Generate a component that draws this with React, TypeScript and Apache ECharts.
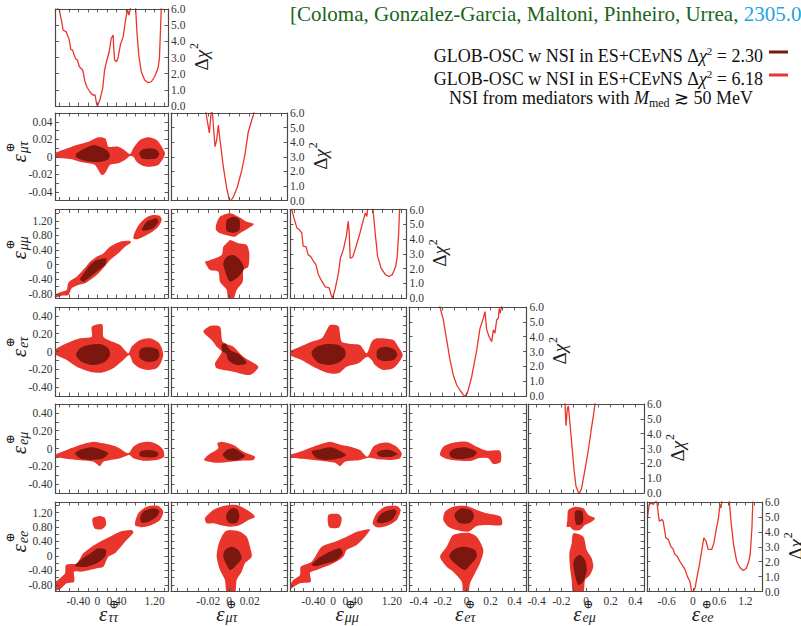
import React, { useEffect, useRef } from "react";
import * as echarts from "echarts";

// ---------- parameters ----------
const subscripts = ["ττ", "μτ", "μμ", "eτ", "eμ", "ee"];

// axis ranges (x when the parameter is on a column, y when on a row)
const xMin = [-0.88, -0.056, -0.88, -0.48, -0.47, -1.05];
const xMax = [1.48, 0.056, 1.5, 0.5, 0.47, 1.58];
const yMin = [-0.88, -0.05, -0.91, -0.5, -0.5, -0.98];
const yMax = [1.48, 0.05, 1.51, 0.5, 0.5, 1.49];
const tickStep = [0.2, 0.01, 0.2, 0.1, 0.1, 0.2];

// tick labels
const xLabelVals = [
  [-0.4, 0, 0.4, 1.2],
  [-0.02, 0, 0.02],
  [-0.4, 0, 0.4, 1.2],
  [-0.4, -0.2, 0, 0.2, 0.4],
  [-0.4, -0.2, 0, 0.2, 0.4],
  [-0.6, 0, 0.6, 1.2],
];
const xLabelDec = [2, 2, 2, 1, 1, 1];
const yLabelVals = [
  [],
  [-0.04, -0.02, 0, 0.02, 0.04],
  [-0.8, -0.4, 0, 0.4, 0.8, 1.2],
  [-0.4, -0.2, 0, 0.2, 0.4],
  [-0.4, -0.2, 0, 0.2, 0.4],
  [-0.8, -0.4, 0, 0.4, 0.8, 1.2],
];
const chiLabels = [0, 1, 2, 3, 4, 5, 6];

// ---------- 1D Δχ² profiles ----------
const chi_tt = [[-0.87,6.3],[-0.84,6.04],[-0.8,5.94],[-0.75,5.2],[-0.72,4.7],[-0.66,4.6],[-0.63,4.4],[-0.59,4.08],[-0.56,3.5],[-0.52,3.46],[-0.49,3.15],[-0.45,2.89],[-0.42,2.85],[-0.38,2.43],[-0.31,2.23],[-0.26,1.5],[-0.22,1.16],[-0.16,0.88],[-0.1,0.68],[-0.05,0.68],[-0.02,0.17],[0.0,0.0],[0.05,0.37],[0.11,1.09],[0.15,2.23],[0.19,2.74],[0.24,3.26],[0.29,4.19],[0.33,4.39],[0.34,3.67],[0.36,2.85],[0.4,2.74],[0.43,2.95],[0.48,3.77],[0.54,4.29],[0.59,5.32],[0.63,5.94],[0.66,5.63],[0.7,6.14],[0.75,8],[0.8,6.1],[0.83,4.5],[0.87,3.05],[0.92,2.12],[0.99,1.61],[1.06,1.44],[1.13,1.5],[1.2,1.81],[1.27,2.33],[1.3,2.95],[1.32,4.5],[1.34,6.14]];
const chi_mt = [[-0.0235,6.5],[-0.0222,6.0],[-0.019,4.63],[-0.0174,5.9],[-0.0168,6.3],[-0.016,6.0],[-0.0135,3.69],[-0.0119,4.15],[-0.0103,5.18],[-0.0087,4.15],[-0.0055,2.32],[-0.0022,0.84],[0.0003,0.05],[0.0019,0.0],[0.0041,0.23],[0.008,0.91],[0.0123,2.06],[0.0155,3.2],[0.0186,4.7],[0.0219,5.5],[0.0241,6.0],[0.025,6.5]];
const chi_mm = [[-0.86,6.3],[-0.845,6.0],[-0.8,5.43],[-0.74,4.75],[-0.69,4.64],[-0.64,4.41],[-0.61,3.51],[-0.55,3.46],[-0.51,2.94],[-0.46,2.82],[-0.4,2.49],[-0.35,2.26],[-0.3,1.59],[-0.23,1.14],[-0.16,0.75],[-0.08,0.68],[-0.03,0.11],[-0.01,0.0],[0.04,0.56],[0.11,1.69],[0.15,2.71],[0.21,3.28],[0.27,4.18],[0.31,5.2],[0.33,4.41],[0.35,2.71],[0.4,2.77],[0.45,3.28],[0.55,4.41],[0.62,5.31],[0.66,5.76],[0.69,5.53],[0.71,6.2],[0.76,8],[0.81,6.2],[0.86,4.41],[0.91,2.82],[0.98,2.03],[1.07,1.58],[1.14,1.46],[1.21,1.58],[1.28,2.15],[1.31,2.82],[1.34,4.41],[1.36,6.1]];
const chi_et = [[-0.23,6.5],[-0.222,6.0],[-0.194,5.15],[-0.166,3.8],[-0.138,2.43],[-0.111,1.42],[-0.082,0.74],[-0.055,0.4],[-0.027,0.07],[-0.013,0.0],[0.006,0.18],[0.043,1.3],[0.085,3.1],[0.112,4.56],[0.14,5.24],[0.154,5.69],[0.168,4.46],[0.19,3.96],[0.21,3.67],[0.223,4.46],[0.237,4.23],[0.251,5.12],[0.265,5.24],[0.273,5.91],[0.279,5.57],[0.293,6.02],[0.3,6.5]];
const chi_em = [[-0.175,6.5],[-0.17,6.0],[-0.162,4.54],[-0.151,5.71],[-0.143,5.86],[-0.13,4.7],[-0.116,3.36],[-0.097,1.57],[-0.081,0.45],[-0.062,0.04],[-0.049,0.04],[-0.035,0.34],[-0.008,1.57],[0.019,2.9],[0.046,4.47],[0.059,5.15],[0.073,6.0],[0.08,6.5]];
const chi_ee = [[-1.04,4.94],[-1.02,5.38],[-1.0,5.83],[-0.94,5.94],[-0.91,5.83],[-0.87,6.0],[-0.83,6.17],[-0.79,5.16],[-0.77,4.71],[-0.71,4.83],[-0.68,4.71],[-0.62,3.6],[-0.56,3.48],[-0.51,3.04],[-0.45,2.82],[-0.41,2.48],[-0.36,2.37],[-0.3,2.03],[-0.23,1.7],[-0.18,1.47],[-0.13,1.03],[-0.07,0.69],[-0.03,0.02],[0.01,0.0],[0.05,0.25],[0.09,0.92],[0.15,1.81],[0.2,2.7],[0.25,3.6],[0.3,3.37],[0.35,2.82],[0.43,2.82],[0.48,3.26],[0.54,4.27],[0.58,4.83],[0.62,5.83],[0.64,5.61],[0.67,6.17],[0.75,8],[0.83,6.17],[0.87,4.71],[0.93,3.15],[1.0,2.03],[1.08,1.59],[1.15,1.41],[1.22,1.54],[1.27,1.94],[1.31,2.48],[1.35,4.27],[1.37,6.05]];

// ---------- 2D allowed regions: _L = Δχ²=6.18, _D = Δχ²=2.30 ----------
const tt_mt_L = [[[-0.9,0.0039],[-0.54,0.0115],[-0.435,0.0134],[-0.19,0.0172],[0.018,0.0222],[0.158,0.0211],[0.194,0.0172],[0.228,0.0115],[0.437,0.0115],[0.542,0.0085],[0.683,0.0031],[0.752,0.0097],[0.893,0.0191],[1.067,0.0222],[1.243,0.0191],[1.348,0.0115],[1.417,0.0039],[1.381,-0.0018],[1.277,-0.0094],[1.102,-0.0114],[0.962,-0.0106],[0.823,-0.0057],[0.752,0.0],[0.683,0.0009],[0.578,-0.0037],[0.437,-0.0075],[0.263,-0.0094],[0.158,-0.0189],[0.089,-0.0209],[-0.051,-0.0094],[-0.192,-0.0075],[-0.366,-0.0057],[-0.54,-0.0029],[-0.716,-0.0018],[-0.9,-0.0006]]];
const tt_mt_D = [[[-0.45,0.0031],[-0.3,0.0085],[-0.087,0.0134],[0.054,0.0115],[0.194,0.0077],[0.263,0.002],[0.228,-0.0029],[0.089,-0.0057],[-0.156,-0.0057],[-0.366,-0.0029],[-0.45,0.0]],[[0.878,0.0039],[0.928,0.0077],[1.102,0.0097],[1.243,0.0077],[1.297,0.0031],[1.243,-0.0018],[1.067,-0.0029],[0.928,-0.0018]]];

const tt_mm_L = [[[-0.9,-0.82],[-0.75,-0.74],[-0.645,-0.69],[-0.61,-0.49],[-0.435,-0.33],[-0.366,-0.235],[-0.24,-0.054],[-0.156,0.083],[-0.016,0.22],[0.123,0.31],[0.263,0.493],[0.473,0.63],[0.683,0.657],[0.697,0.602],[0.578,0.493],[0.437,0.312],[0.263,0.129],[0.179,-0.008],[0.054,-0.19],[-0.016,-0.28],[-0.156,-0.418],[-0.261,-0.51],[-0.4,-0.555],[-0.54,-0.645],[-0.61,-0.828],[-0.75,-0.847],[-0.9,-0.9]],[[0.752,0.722],[0.788,0.903],[0.893,1.133],[1.033,1.297],[1.172,1.36],[1.312,1.332],[1.348,1.223],[1.277,1.04],[1.102,0.859],[0.962,0.766],[0.823,0.695]]];
const tt_mm_D = [[[-0.366,-0.4],[-0.261,-0.19],[-0.12,0.04],[-0.016,0.129],[0.179,0.175],[0.158,-0.008],[-0.016,-0.19],[-0.19,-0.37],[-0.293,-0.464]],[[0.928,0.95],[1.033,1.176],[1.243,1.27],[1.277,1.176],[1.172,0.996],[0.998,0.93]]];

const tt_et_L = [[[-0.9,0.017],[-0.645,0.092],[-0.366,0.148],[-0.12,0.166],[-0.12,0.279],[0.054,0.309],[0.11,0.298],[0.123,0.166],[0.228,0.129],[0.473,0.073],[0.647,-0.02],[0.718,0.054],[0.893,0.129],[1.102,0.148],[1.297,0.092],[1.381,-0.028],[1.327,-0.133],[1.243,-0.189],[1.067,-0.208],[0.893,-0.189],[0.752,-0.133],[0.668,-0.039],[0.542,-0.096],[0.333,-0.189],[0.089,-0.238],[-0.156,-0.227],[-0.435,-0.171],[-0.645,-0.096],[-0.9,-0.028]]];
const tt_et_D = [[[-0.45,-0.039],[-0.366,0.036],[-0.19,0.073],[0.054,0.084],[0.228,0.036],[0.263,-0.039],[0.158,-0.115],[-0.087,-0.152],[-0.33,-0.115]],[[0.878,0.0],[0.928,0.036],[1.102,0.047],[1.277,0.017],[1.297,-0.058],[1.207,-0.107],[1.033,-0.115],[0.893,-0.076]]];

const tt_em_L = [[[-0.9,-0.073],[-0.645,-0.017],[-0.366,0.039],[-0.087,0.076],[0.123,0.058],[0.404,0.02],[0.647,-0.054],[0.752,0.02],[0.893,0.065],[1.102,0.076],[1.277,0.039],[1.381,-0.017],[1.396,-0.092],[1.243,-0.129],[0.962,-0.137],[0.752,-0.11],[0.668,-0.073],[0.473,-0.11],[0.123,-0.148],[0.054,-0.197],[-0.087,-0.148],[-0.435,-0.129],[-0.716,-0.11],[-0.9,-0.092]]];
const tt_em_D = [[[-0.47,-0.054],[-0.366,-0.017],[-0.12,0.013],[0.054,-0.009],[0.228,-0.054],[0.123,-0.11],[-0.156,-0.129],[-0.366,-0.11]],[[0.878,-0.054],[0.928,-0.025],[1.102,-0.017],[1.277,-0.047],[1.243,-0.092],[1.033,-0.099],[0.893,-0.084]]];

const tt_ee_L = [[[-0.9,-0.75],[-0.786,-0.616],[-0.68,-0.478],[-0.66,-0.249],[-0.435,-0.202],[-0.297,0.074],[-0.12,0.256],[0.054,0.394],[0.263,0.532],[0.473,0.67],[0.718,0.717],[0.752,0.643],[0.578,0.394],[0.368,0.074],[0.228,-0.02],[0.123,-0.296],[-0.016,-0.34],[-0.156,-0.387],[-0.366,-0.434],[-0.49,-0.434],[-0.49,-0.71],[-0.645,-0.754],[-0.786,-0.92],[-0.9,-0.95]],[[-0.1,1.04],[0.054,1.104],[0.158,1.048],[0.179,0.855],[0.089,0.737],[-0.051,0.753],[-0.1,0.891]],[[0.788,0.855],[0.857,1.178],[1.033,1.36],[1.277,1.38],[1.381,1.222],[1.312,0.993],[1.137,0.855],[0.928,0.792]]];
const tt_ee_D = [[[-0.47,-0.277],[-0.31,-0.064],[-0.156,0.063],[0.018,0.212],[0.179,0.165],[0.158,-0.02],[-0.016,-0.202],[-0.226,-0.296],[-0.4,-0.296]],[[0.893,1.04],[0.962,1.222],[1.172,1.316],[1.297,1.25],[1.243,1.084],[1.067,0.946],[0.928,0.919]]];

const mt_mm_L = [[[-0.0125,1.086],[-0.0087,1.313],[0.001,1.406],[0.009,1.313],[0.0171,1.176],[0.0241,1.114],[0.0186,0.996],[0.0106,0.859],[0.0058,0.766],[0.001,0.785],[-0.0087,0.859],[-0.0125,0.95]],[[0.001,0.676],[0.009,0.586],[0.0171,0.539],[0.0196,0.312],[0.0186,-0.054],[0.0138,-0.144],[0.0132,-0.464],[0.0074,-0.691],[0.0042,-0.95],[-0.0007,-0.95],[-0.0022,-0.691],[-0.0087,-0.464],[-0.0103,-0.19],[-0.0183,-0.144],[-0.0232,0.083],[-0.02,0.11],[-0.0071,0.266],[-0.0055,0.493],[-0.0007,0.63]]];
const mt_mm_D = [[[-0.0022,1.223],[0.0042,1.313],[0.01,1.242],[0.01,0.95],[0.0042,0.876],[-0.0022,0.93]],[[-0.0055,0.039],[-0.0022,0.219],[0.0042,0.266],[0.0106,0.129],[0.0145,-0.098],[0.009,-0.328],[0.001,-0.464],[-0.0025,-0.281]]];

const mt_et_L = [[[-0.0248,0.222],[-0.0183,0.287],[-0.0087,0.279],[-0.0061,0.11],[0.0042,0.054],[0.0138,-0.058],[0.0283,-0.171],[0.0203,-0.264],[0.0042,-0.227],[-0.0119,-0.189],[-0.0135,-0.133],[-0.0071,-0.002],[-0.0119,0.054],[-0.0167,0.129]]];
const mt_et_D = [[[-0.0071,0.073],[-0.0039,0.092],[0.001,0.017],[0.0106,-0.039],[0.0171,-0.133],[0.0074,-0.152],[-0.0007,-0.096],[-0.0029,-0.02],[-0.0061,-0.002]]];

const mt_em_L = [[[-0.0241,-0.129],[-0.02,-0.073],[-0.0103,0.002],[-0.0113,0.058],[-0.0071,0.076],[0.0042,0.039],[0.0138,-0.036],[0.0251,-0.092],[0.0235,-0.129],[0.0106,-0.137],[0.001,-0.148],[-0.0119,-0.16]]];
const mt_em_D = [[[-0.0061,-0.073],[-0.0022,-0.017],[0.0042,0.002],[0.0106,-0.036],[0.0154,-0.084],[0.009,-0.129],[-0.0007,-0.129]]];

const mt_ee_L = [[[-0.0232,1.04],[-0.0152,1.269],[-0.0055,1.38],[0.0074,1.407],[0.0186,1.25],[0.0251,1.084],[0.0186,0.993],[0.0106,0.855],[0.001,0.808],[-0.0087,0.855],[-0.0152,0.902],[-0.0215,0.902]],[[0.001,0.717],[0.0106,0.67],[0.0171,0.532],[0.0203,0.256],[0.0219,-0.02],[0.0154,-0.202],[0.0122,-0.434],[0.0074,-0.663],[0.0058,-1.0],[-0.0022,-1.0],[-0.0039,-0.663],[-0.0087,-0.387],[-0.0119,-0.02],[-0.0103,0.303],[-0.0071,0.532],[-0.0039,0.67]]];
const mt_ee_D = [[[-0.0022,1.178],[0.0026,1.316],[0.008,1.29],[0.01,1.084],[0.0074,0.919],[0.001,0.902],[-0.0022,0.993]],[[-0.0055,-0.02],[-0.0039,0.165],[0.0026,0.256],[0.009,0.165],[0.0122,-0.064],[0.0058,-0.296],[0.001,-0.387],[-0.0022,-0.249]]];

const mm_et_L = [[[-0.9,-0.002],[-0.676,0.054],[-0.437,0.11],[-0.232,0.148],[-0.13,0.242],[-0.063,0.298],[0.107,0.287],[0.141,0.204],[0.176,0.11],[0.38,0.084],[0.55,0.073],[0.687,-0.02],[0.789,0.11],[0.891,0.148],[1.23,0.129],[1.332,0.054],[1.422,-0.039],[1.332,-0.133],[1.23,-0.189],[1.026,-0.208],[0.856,-0.152],[0.789,-0.096],[0.699,-0.058],[0.515,-0.133],[0.278,-0.171],[0.107,-0.245],[-0.13,-0.238],[-0.404,-0.171],[-0.676,-0.088],[-0.9,-0.039]]];
const mm_et_D = [[[-0.437,-0.002],[-0.335,0.054],[-0.13,0.084],[0.107,0.073],[0.244,0.017],[0.244,-0.058],[0.107,-0.126],[-0.097,-0.152],[-0.302,-0.126],[-0.416,-0.058]],[[0.891,-0.002],[0.944,0.036],[1.095,0.054],[1.265,0.017],[1.312,-0.039],[1.23,-0.096],[1.026,-0.107],[0.903,-0.076]]];

const mm_em_L = [[[-0.9,-0.073],[-0.676,-0.036],[-0.404,0.02],[-0.2,0.058],[-0.063,0.076],[0.176,0.039],[0.346,0.02],[0.55,-0.017],[0.699,-0.092],[0.822,0.02],[0.959,0.058],[1.128,0.065],[1.3,0.02],[1.402,-0.054],[1.367,-0.11],[1.163,-0.129],[0.924,-0.122],[0.822,-0.11],[0.72,-0.103],[0.55,-0.129],[0.244,-0.148],[0.141,-0.197],[0.039,-0.16],[-0.404,-0.129],[-0.743,-0.11],[-0.9,-0.092]]];
const mm_em_D = [[[-0.437,-0.036],[-0.267,-0.009],[-0.063,0.013],[0.107,-0.017],[0.264,-0.073],[0.141,-0.11],[-0.13,-0.129],[-0.335,-0.11]],[[0.891,-0.054],[0.959,-0.025],[1.163,-0.017],[1.312,-0.062],[1.197,-0.092],[0.959,-0.092]]];

const mm_ee_L = [[[-0.9,-0.85],[-0.813,-0.663],[-0.676,-0.525],[-0.661,-0.296],[-0.437,-0.158],[-0.232,0.256],[0.039,0.394],[0.278,0.532],[0.483,0.67],[0.754,0.737],[0.652,0.532],[0.483,0.303],[0.278,0.165],[0.209,-0.02],[0.005,-0.202],[-0.335,-0.387],[-0.471,-0.461],[-0.457,-0.71],[-0.676,-0.754],[-0.845,-0.89],[-0.9,-0.92]],[[-0.097,1.131],[0.107,1.159],[0.176,1.04],[0.127,0.792],[-0.077,0.792]],[[0.809,0.902],[0.891,1.178],[1.061,1.36],[1.3,1.38],[1.381,1.27],[1.3,0.993],[1.095,0.826],[0.891,0.792]]];
const mm_ee_D = [[[-0.437,-0.249],[-0.302,-0.064],[-0.063,0.118],[0.141,0.212],[0.196,0.074],[0.073,-0.11],[-0.13,-0.202],[-0.335,-0.277]],[[0.891,0.946],[0.993,1.178],[1.23,1.29],[1.3,1.222],[1.197,0.993],[0.993,0.902]]];

const et_em_L = [[[-0.221,-0.073],[-0.194,0.02],[-0.111,0.065],[0.001,0.076],[0.085,0.02],[0.168,-0.025],[0.279,-0.025],[0.285,-0.148],[0.223,-0.174],[0.181,-0.11],[0.098,-0.11],[0.043,-0.137],[-0.055,-0.137],[-0.152,-0.122]]];
const et_em_D = [[[-0.144,-0.054],[-0.111,-0.009],[-0.013,0.013],[0.085,-0.039],[0.056,-0.092],[-0.04,-0.118],[-0.124,-0.103]]];

const et_ee_L = [[[-0.194,0.993],[-0.18,1.222],[-0.111,1.36],[0.001,1.38],[0.085,1.27],[0.168,1.178],[0.285,1.084],[0.293,0.855],[0.168,0.855],[0.085,0.826],[0.015,0.67],[-0.082,0.717],[-0.152,0.808]],[[-0.111,0.579],[0.015,0.643],[0.085,0.532],[0.14,0.165],[0.112,-0.202],[0.07,-0.478],[0.029,-0.754],[0.015,-1.0],[-0.027,-1.0],[-0.04,-0.71],[-0.111,-0.434],[-0.166,-0.296],[-0.221,-0.02],[-0.166,0.256]]];
const et_ee_D = [[[-0.096,1.178],[-0.04,1.316],[0.043,1.25],[0.062,1.084],[0.029,0.919],[-0.055,0.902],[-0.096,1.04]],[[-0.144,-0.02],[-0.111,0.165],[-0.027,0.256],[0.07,0.165],[0.085,-0.02],[0.043,-0.202],[-0.013,-0.387],[-0.082,-0.249]]];

const em_ee_L = [[[-0.143,1.27],[-0.089,1.36],[-0.022,1.316],[0.019,1.131],[0.073,1.04],[0.046,0.946],[-0.008,0.855],[-0.049,0.717],[-0.103,0.717],[-0.13,0.808],[-0.156,0.808],[-0.151,0.993]],[[-0.103,0.62],[-0.022,0.532],[0.006,0.165],[0.046,-0.064],[0.059,-0.296],[0.032,-0.525],[-0.008,-0.663],[-0.022,-1.0],[-0.103,-1.0],[-0.116,-0.663],[-0.13,-0.296],[-0.135,0.074],[-0.116,0.35]]];
const em_ee_D = [[[-0.089,1.222],[-0.062,1.27],[-0.027,1.222],[-0.027,0.902],[-0.075,0.855],[-0.089,0.993]],[[-0.103,-0.202],[-0.089,-0.064],[-0.049,0.033],[-0.008,-0.11],[0.006,-0.387],[-0.022,-0.71],[-0.062,-0.8],[-0.089,-0.525]]];

const chiCurves = [chi_tt, chi_mt, chi_mm, chi_et, chi_em, chi_ee];
// key: "col,row"
const regions: Record<string, any[][]> = {
  "0,1": [tt_mt_L, tt_mt_D],
  "0,2": [tt_mm_L, tt_mm_D],
  "1,2": [mt_mm_L, mt_mm_D],
  "0,3": [tt_et_L, tt_et_D],
  "1,3": [mt_et_L, mt_et_D],
  "2,3": [mm_et_L, mm_et_D],
  "0,4": [tt_em_L, tt_em_D],
  "1,4": [mt_em_L, mt_em_D],
  "2,4": [mm_em_L, mm_em_D],
  "3,4": [et_em_L, et_em_D],
  "0,5": [tt_ee_L, tt_ee_D],
  "1,5": [mt_ee_L, mt_ee_D],
  "2,5": [mm_ee_L, mm_ee_D],
  "3,5": [et_ee_L, et_ee_D],
  "4,5": [em_ee_L, em_ee_D],
};

// ---------- layout ----------
const colLeft = [55.5, 171, 290, 409, 528, 647];
const colWidth = [112.5, 116, 116.5, 117.5, 116, 115];
const rowTop = [9, 113, 209.5, 307, 404, 502];
const rowHeight = [97, 87.5, 88.5, 89, 89, 89.5];

const LIGHT = "#e9352b";
const DARK = "#7c1710";
const AXIS = "#4a4a4a";
const FONT = "Liberation Serif";

function tickValues(min: number, max: number, step: number) {
  const out: number[] = [];
  for (let k = Math.ceil(min / step - 1e-9); k * step <= max + 1e-9; k++) out.push(+(k * step).toFixed(6));
  return out;
}
function fmt(v: number, d: number) {
  return Math.abs(v) < 1e-9 ? "0" : v.toFixed(d);
}

function mkAxis(gridIndex: number, position: string, min: number, max: number, ticks: number[], labels: number[] | null, fmtFn?: (v: number) => string) {
  return {
    type: "value",
    gridIndex,
    position,
    min,
    max,
    z: 5,
    axisLine: { show: true, onZero: false, lineStyle: { color: AXIS, width: 1.2 } },
    axisTick: { show: true, inside: true, length: 3.5, customValues: ticks, lineStyle: { color: AXIS, width: 0.9 } },
    axisLabel: labels
      ? { show: true, customValues: labels, formatter: fmtFn, color: "#333", fontFamily: FONT, fontSize: 11.5, margin: 3 }
      : { show: false },
    splitLine: { show: false },
  };
}

function epsLabel(x: number, y: number, sub: string, rotate: boolean) {
  return {
    type: "group",
    x,
    y,
    rotation: rotate ? Math.PI / 2 : 0,
    children: [
      { type: "text", x: 0, y: 0, style: { text: "ε", fontSize: 21, fontStyle: "italic", fontFamily: FONT, fill: "#222", align: "right", verticalAlign: "middle", textAlign: "right", textVerticalAlign: "middle" } },
      { type: "text", x: 1.5, y: -9.5, style: { text: "⊕", fontSize: 12, fontFamily: "DejaVu Serif", fill: "#222", align: "left", verticalAlign: "middle", textAlign: "left", textVerticalAlign: "middle" } },
      { type: "text", x: 1, y: 4, style: { text: sub, fontSize: 14, fontStyle: "italic", fontFamily: FONT, fill: "#222", align: "left", verticalAlign: "middle", textAlign: "left", textVerticalAlign: "middle" } },
    ],
  };
}

function chiLabel(x: number, y: number) {
  return {
    type: "group",
    x,
    y,
    rotation: Math.PI / 2,
    children: [
      { type: "text", x: 11, y: 0, style: { text: "Δ{i|χ}", fontSize: 19, fontFamily: FONT, fill: "#222", align: "right", verticalAlign: "middle", textAlign: "right", textVerticalAlign: "middle", rich: { i: { fontSize: 19, fontFamily: FONT, fontStyle: "italic", fill: "#222" } } } },
      { type: "text", x: 12, y: -7, style: { text: "2", fontSize: 12, fontFamily: FONT, fill: "#222", align: "left", verticalAlign: "middle", textAlign: "left", textVerticalAlign: "middle" } },
    ],
  };
}

function buildOption() {
  const grids: any[] = [];
  const xAxes: any[] = [];
  const yAxes: any[] = [];
  const series: any[] = [];
  const graphics: any[] = [];

  for (let r = 0; r < 6; r++) {
    for (let c = 0; c <= r; c++) {
      const g = grids.length;
      grids.push({ left: colLeft[c], top: rowTop[r], width: colWidth[c], height: rowHeight[r], containLabel: false });
      const diag = r === c;
      const xt = tickValues(xMin[c], xMax[c], tickStep[c]);
      const xi = xAxes.length;
      xAxes.push(mkAxis(g, "bottom", xMin[c], xMax[c], xt, r === 5 ? xLabelVals[c] : null, (v) => fmt(v, xLabelDec[c])));
      xAxes.push(mkAxis(g, "top", xMin[c], xMax[c], xt, null));
      const yi = yAxes.length;
      if (diag) {
        yAxes.push(mkAxis(g, "left", 0, 6, chiLabels, null));
        yAxes.push(mkAxis(g, "right", 0, 6, chiLabels, chiLabels, (v) => v.toFixed(1)));
        series.push({
          type: "line",
          xAxisIndex: xi,
          yAxisIndex: yi,
          data: chiCurves[c],
          showSymbol: false,
          clip: true,
          silent: true,
          lineStyle: { color: LIGHT, width: 1.3 },
          z: 3,
        });
      } else {
        const yt = tickValues(yMin[r], yMax[r], tickStep[r]);
        yAxes.push(mkAxis(g, "left", yMin[r], yMax[r], yt, c === 0 ? yLabelVals[r] : null, (v) => fmt(v, 2)));
        yAxes.push(mkAxis(g, "right", yMin[r], yMax[r], yt, null));
        const [L, D] = regions[c + "," + r];
        const polys = [
          ...L.map((pts: number[][]) => ({ pts, color: LIGHT })),
          ...D.map((pts: number[][]) => ({ pts, color: DARK })),
        ];
        series.push({
          type: "custom",
          xAxisIndex: xi,
          yAxisIndex: yi,
          clip: true,
          silent: true,
          z: 2,
          data: polys.map((p) => p.pts[0]),
          renderItem: (params: any, api: any) => {
            const p = polys[params.dataIndex];
            return {
              type: "polygon",
              shape: { points: p.pts.map((pt: number[]) => api.coord(pt)), smooth: 0.25 },
              style: { fill: p.color, stroke: null },
            };
          },
        });
      }
    }
  }

  // axis titles
  for (let c = 0; c < 6; c++) {
    const cx = colLeft[c] + colWidth[c] / 2;
    graphics.push(epsLabel(cx - 4.5, 613.5, subscripts[c], false));
  }
  for (let r = 1; r < 6; r++) {
    const cy = rowTop[r] + rowHeight[r] / 2;
    graphics.push(epsLabel(19, cy - 2.5, subscripts[r], true));
  }
  for (let r = 0; r < 6; r++) {
    const cy = rowTop[r] + rowHeight[r] / 2;
    graphics.push(chiLabel(colLeft[r] + colWidth[r] + 33, cy + 3.5));
  }

  // reference
  graphics.push({
    type: "text",
    x: 290,
    y: 14,
    style: {
      text: "[Coloma, Gonzalez-Garcia, Maltoni, Pinheiro, Urrea, {b|2305.0}",
      fontSize: 21,
      fontFamily: FONT,
      fill: "#1a641a",
      align: "left",
      verticalAlign: "middle",
      textAlign: "left",
      textVerticalAlign: "middle",
      rich: { b: { fontSize: 21, fontFamily: FONT, fill: "#21a3e3" } },
    },
  });

  // legend
  const legendRich = {
    i: { fontSize: 18, fontFamily: FONT, fontStyle: "italic", fill: "#111", lineHeight: 22 },
    s: { fontSize: 11, fontFamily: FONT, fill: "#111", lineHeight: 10, verticalAlign: "top" },
    sub: { fontSize: 12, fontFamily: FONT, fill: "#111", lineHeight: 10, verticalAlign: "bottom" },
  };
  const legendRows = [
    { y: 56, text: "GLOB-OSC w NSI in ES+CE{i|ν}NS Δ{i|χ}{s|2} = 2.30", color: DARK, ly: 52 },
    { y: 79, text: "GLOB-OSC w NSI in ES+CE{i|ν}NS Δ{i|χ}{s|2} = 6.18", color: LIGHT, ly: 75 },
  ];
  legendRows.forEach((row) => {
    graphics.push({
      type: "text",
      x: 763,
      y: row.y,
      style: {
        text: row.text,
        fontSize: 18,
        fontFamily: FONT,
        fill: "#111",
        lineHeight: 22,
        align: "right",
        verticalAlign: "middle",
        textAlign: "right",
        textVerticalAlign: "middle",
        rich: legendRich,
      },
    });
    graphics.push({
      type: "line",
      shape: { x1: 769, y1: row.ly, x2: 788, y2: row.ly },
      style: { stroke: row.color, lineWidth: 3 },
    });
  });
  graphics.push({
    type: "text",
    x: 601,
    y: 98,
    style: {
      text: "NSI from mediators with {i|M}{sub|med} ≳ 50 MeV",
      fontSize: 18,
      fontFamily: FONT,
      fill: "#111",
      lineHeight: 22,
      align: "center",
      verticalAlign: "middle",
      textAlign: "center",
      textVerticalAlign: "middle",
      rich: legendRich,
    },
  });

  return {
    animation: false,
    backgroundColor: "#ffffff",
    grid: grids,
    xAxis: xAxes,
    yAxis: yAxes,
    series,
    graphic: graphics,
  };
}

export default function App() {
  const ref = useRef<HTMLDivElement>(null);
  useEffect(() => {
    if (!ref.current) return;
    const chart = echarts.init(ref.current, undefined, { renderer: "svg" });
    chart.setOption(buildOption() as any);
    return () => chart.dispose();
  }, []);
  return (
    <div
      ref={ref}
      style={{ position: "absolute", left: 0, top: 0, width: 801, height: 626, background: "#fff" }}
    />
  );
}
